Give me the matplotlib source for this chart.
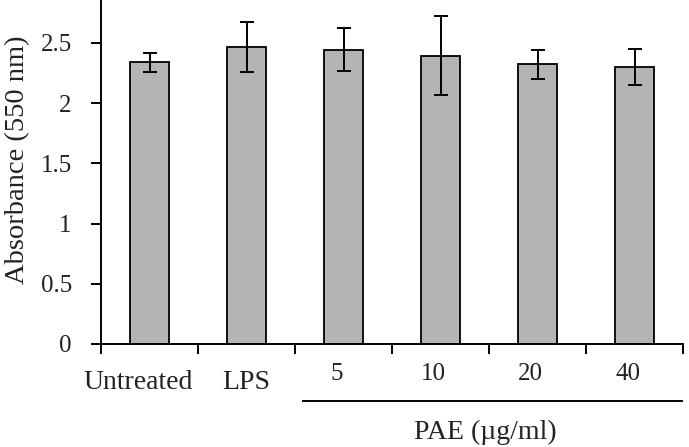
import matplotlib
matplotlib.use("Agg")
import matplotlib.pyplot as plt
import numpy as np
from matplotlib.transforms import blended_transform_factory

categories = ["Untreated", "LPS", "5", "10", "20", "40"]
values = [2.34, 2.465, 2.445, 2.395, 2.325, 2.30]
errors = [0.08, 0.21, 0.18, 0.33, 0.12, 0.15]
yticks = [0, 0.5, 1, 1.5, 2, 2.5]
ytick_labels = ["0", "0.5", "1", "1.5", "2", "2.5"]
group_label = "PAE (µg/ml)"
ylabel = "Absorbance (550 nm)"

plt.rcParams['font.family'] = ['Liberation Serif', 'DejaVu Serif']

fig = plt.figure(figsize=(6.89, 4.47), dpi=100)
ax = fig.add_axes([101/689, 103/447, 582/689, 344/447])

x = np.arange(len(categories))
ax.bar(x, values, width=0.41, color="#b4b4b4", edgecolor="black", linewidth=1.3,
       yerr=errors, error_kw=dict(ecolor="black", elinewidth=1.4, capsize=5, capthick=1.4))

ax.set_xlim(-0.5, len(categories) - 0.5)
ax.set_ylim(0, 2.857)
ax.set_yticks(yticks)
ax.set_yticklabels(ytick_labels, fontsize=18, color="#222222")
ax.set_xticks(np.arange(len(categories) + 1) - 0.5)
ax.set_xticklabels([])
ax.tick_params(axis='y', direction='out', length=7, width=1.4, pad=14)
ax.tick_params(axis='x', direction='out', length=7, width=1.4)
for s in ["top", "right"]:
    ax.spines[s].set_visible(False)
for s in ["left", "bottom"]:
    ax.spines[s].set_linewidth(1.4)

ax.text(-0.144, 0.535, ylabel, transform=ax.transAxes, rotation=90,
        ha='center', va='center', fontsize=20.5, color="#222222")

trans = blended_transform_factory(ax.transData, ax.transAxes)
for i, c in enumerate(categories):
    if i < 2:
        ax.text(i - (0.12 if i == 0 else 0.005), -0.113, c, transform=trans,
                ha='center', va='center', fontsize=20, color="#222222")
    else:
        ax.text(i - 0.07, -0.087, c, transform=trans,
                ha='center', va='center', fontsize=18, color="#222222")

ax.plot([1.58, 5.49], [-0.166, -0.166], transform=trans, color='black', lw=1.4, clip_on=False)
ax.text(3.46, -0.256, group_label, transform=trans, ha='center', va='center',
        fontsize=20, color="#222222")

fig.savefig("out.png", dpi=100)
